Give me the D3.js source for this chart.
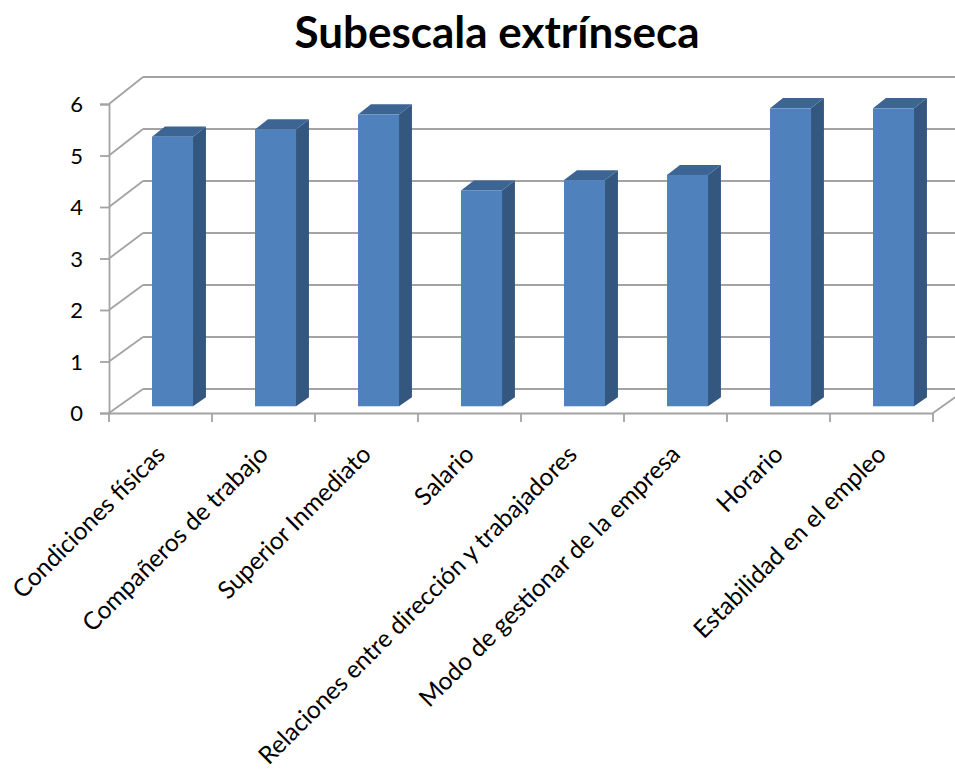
<!DOCTYPE html>
<html>
<head>
<meta charset="utf-8">
<script src="https://cdn.jsdelivr.net/npm/d3@7"></script>
<style>
  body { margin: 0; background: #fff; overflow: hidden; }
  text { font-family: Lato, "Open Sans", sans-serif; fill: #000; }
</style>
</head>
<body>
<script>
// chart data
var categories = [
  "Condiciones físicas",
  "Compañeros de trabajo",
  "Superior Inmediato",
  "Salario",
  "Relaciones entre dirección y trabajadores",
  "Modo de gestionar de la empresa",
  "Horario",
  "Estabilidad en el empleo"
];
var values = [5.22, 5.36, 5.65, 4.18, 4.38, 4.48, 5.77, 5.77];
var yTicks = [0, 1, 2, 3, 4, 5, 6];
var title = "Subescala extrínseca";

var w = 955, h = 773;

// depth of the 3d box (screen offset from front to back)
var depthX = 34;

var svg = d3.select("body").append("svg")
  .attr("width", w)
  .attr("height", h);

// x band scale on the front plane
var x = d3.scaleBand()
  .domain(categories)
  .range([109, 933])
  .paddingInner(0)
  .paddingOuter(0);

// front and back value scales (a bit of perspective)
var yFront = d3.scaleLinear().domain([0, 6]).range([413, 104]);
var yBack = d3.scaleLinear().domain([0, 6]).range([389, 77]);

// point at depth t (0 = front, 1 = back)
function px(xv, t) { return xv + depthX * t; }
function py(v, t) { return yFront(v) + (yBack(v) - yFront(v)) * t; }

var gridColor = "#a3a3a3";

// back wall gridlines
svg.append("g").selectAll("line.grid")
  .data(yTicks)
  .enter()
  .append("line")
  .attr("class", "grid")
  .attr("x1", px(x.range()[0], 1))
  .attr("x2", px(x.range()[1], 1))
  .attr("y1", function(d){ return py(d, 1); })
  .attr("y2", function(d){ return py(d, 1); })
  .style("stroke", gridColor)
  .style("stroke-width", 1.8);

// side wall diagonals
svg.append("g").selectAll("line.side")
  .data(yTicks)
  .enter()
  .append("line")
  .attr("x1", px(x.range()[0], 0))
  .attr("x2", px(x.range()[0], 1))
  .attr("y1", function(d){ return py(d, 0); })
  .attr("y2", function(d){ return py(d, 1); })
  .style("stroke", gridColor)
  .style("stroke-width", 1.8);

// floor right edge
svg.append("line")
  .attr("x1", px(x.range()[1], 0))
  .attr("x2", px(x.range()[1], 1))
  .attr("y1", py(0, 0))
  .attr("y2", py(0, 1))
  .style("stroke", gridColor)
  .style("stroke-width", 1.8);

// y axis on the front plane
var yAxis = d3.axisLeft(yFront)
  .tickValues(yTicks)
  .tickSize(9)
  .tickPadding(17)
  .tickFormat(d3.format("d"));

var ya = svg.append("g")
  .attr("transform", "translate(" + x.range()[0] + ",0)")
  .call(yAxis);
ya.select(".domain").style("stroke", gridColor).style("stroke-width", 1.8);
ya.selectAll(".tick line").style("stroke", gridColor).style("stroke-width", 1.8);
ya.selectAll(".tick text")
  .style("font-size", "22px")
  .attr("dy", "0.36em");

// x axis on the front plane
var xAxis = d3.axisBottom(x)
  .tickSize(0)
  .tickFormat("");
var xa = svg.append("g")
  .attr("transform", "translate(0," + yFront(0) + ")")
  .call(xAxis);
xa.select(".domain").style("stroke", gridColor).style("stroke-width", 1.8);
xa.selectAll(".tick").remove();

// category boundary ticks
var bounds = categories.map(function(c){ return x(c); }).concat([x.range()[1]]);
svg.append("g").selectAll("line.xt")
  .data(bounds)
  .enter()
  .append("line")
  .attr("x1", function(d){ return d; })
  .attr("x2", function(d){ return d; })
  .attr("y1", yFront(0))
  .attr("y2", yFront(0) + 9)
  .style("stroke", gridColor)
  .style("stroke-width", 1.8);

// 3d bars
var t1 = 0.28, t2 = 0.66;
var barW = 41;
var bars = svg.append("g").selectAll("g.bar")
  .data(values)
  .enter()
  .append("g")
  .attr("class", "bar");

function corners(d, i) {
  var xl = x(categories[i]) + x.bandwidth() / 2 + 2.5 - barW / 2;
  var xr = xl + barW;
  return {
    fl: px(xl, t1), fr: px(xr, t1),
    bl: px(xl, t2), br: px(xr, t2),
    ftop: py(d, t1), fbot: py(0, t1),
    btop: py(d, t2), bbot: py(0, t2)
  };
}

// right side face
bars.append("path")
  .attr("d", function(d, i){
    var c = corners(d, i);
    return "M" + c.fr + "," + c.ftop + "L" + c.br + "," + c.btop +
      "L" + c.br + "," + c.bbot + "L" + c.fr + "," + c.fbot + "Z";
  })
  .style("fill", "#34577f");

// top face
bars.append("path")
  .attr("d", function(d, i){
    var c = corners(d, i);
    return "M" + c.fl + "," + c.ftop + "L" + c.fr + "," + c.ftop +
      "L" + c.br + "," + c.btop + "L" + c.bl + "," + c.btop + "Z";
  })
  .style("fill", "#3d6594");

// front face
bars.append("rect")
  .attr("x", function(d, i){ return corners(d, i).fl; })
  .attr("y", function(d, i){ return corners(d, i).ftop; })
  .attr("width", barW)
  .attr("height", function(d, i){ var c = corners(d, i); return c.fbot - c.ftop; })
  .style("fill", "#4f81bd");

// rotated category labels
svg.append("g").selectAll("text.cat")
  .data(categories)
  .enter()
  .append("text")
  .attr("class", "cat")
  .attr("text-anchor", "end")
  .attr("transform", function(d){
    var cx = x(d) + x.bandwidth() / 2 + 6;
    return "translate(" + cx + ",456) rotate(-45)";
  })
  .style("font-size", "24.5px")
  .text(function(d){ return d; });

// title
svg.append("text")
  .attr("x", 497)
  .attr("y", 48)
  .attr("text-anchor", "middle")
  .style("font-size", "44px")
  .style("font-weight", "bold")
  .text(title);
</script>
</body>
</html>
